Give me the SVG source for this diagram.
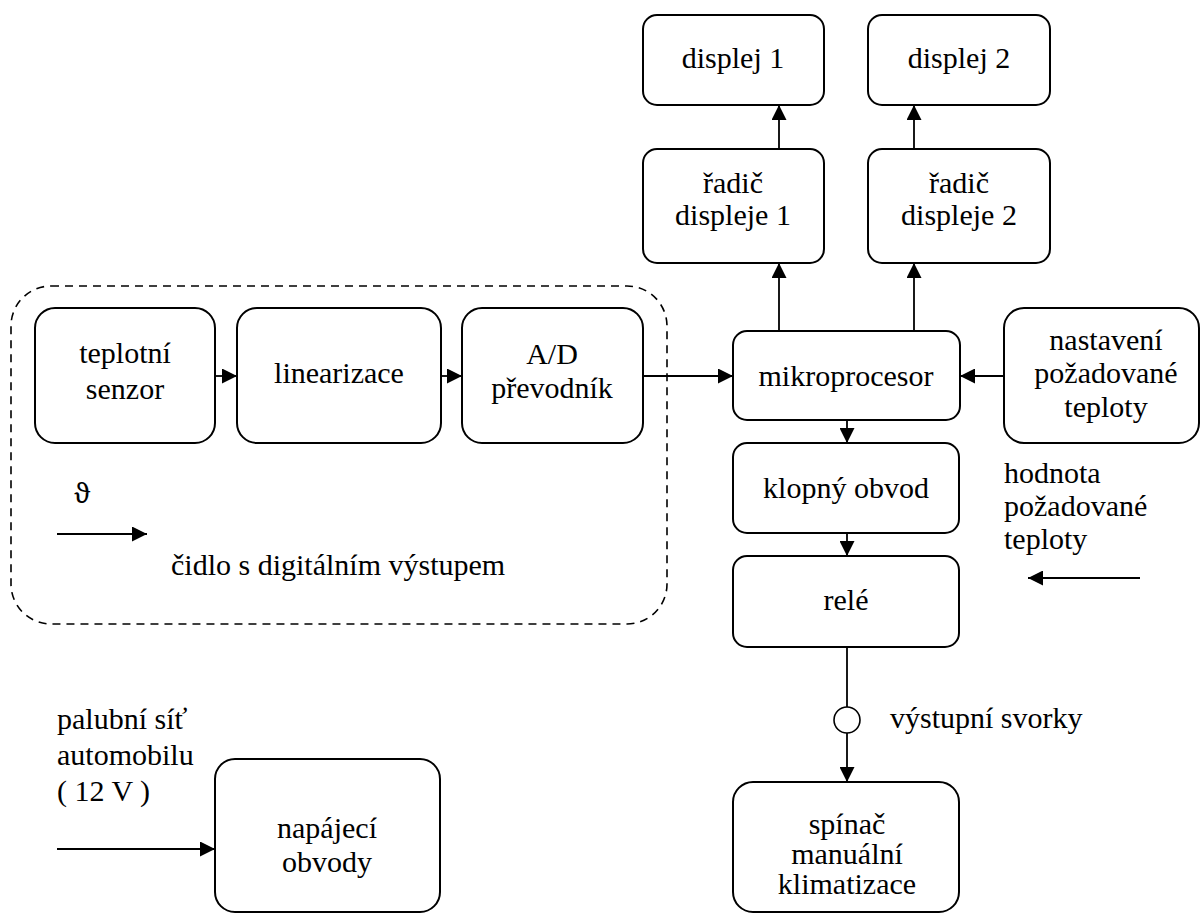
<svg xmlns="http://www.w3.org/2000/svg" width="1201" height="914" viewBox="0 0 1201 914">
<defs>
<marker id="ah" viewBox="0 0 10 10" refX="10" refY="5" markerUnits="userSpaceOnUse" markerWidth="15" markerHeight="15" orient="auto">
<path d="M0,0 L10,5 L0,10 z" fill="#000"/>
</marker>
</defs>
<rect id="sensor-group" x="11" y="286" width="656" height="338" rx="40" fill="none" stroke="#000" stroke-width="1.6" stroke-dasharray="8 6"/>
<g id="connectors" stroke="#000" stroke-width="1.8" fill="none" marker-end="url(#ah)">
<line x1="215" y1="376" x2="237" y2="376"/>
<line x1="441" y1="376" x2="462" y2="376"/>
<line x1="643" y1="376" x2="733" y2="376"/>
<line x1="1004" y1="376" x2="960" y2="376"/>
<line x1="847" y1="420" x2="847" y2="443"/>
<line x1="847" y1="533" x2="847" y2="556"/>
<line x1="847" y1="733" x2="847" y2="782"/>
<line x1="779" y1="149" x2="779" y2="105"/>
<line x1="914" y1="149" x2="914" y2="105"/>
<line x1="779" y1="331" x2="779" y2="263"/>
<line x1="914" y1="331" x2="914" y2="263"/>
<line x1="57" y1="849" x2="215" y2="849"/>
<line x1="57" y1="534" x2="147" y2="534"/>
<line x1="1140" y1="578" x2="1028" y2="578"/>
<line x1="847" y1="647" x2="847" y2="707" marker-end="none"/>
</g>
<g fill="#fff" stroke="#000" stroke-width="2">
<rect id="r-teplotni" x="35" y="308" width="180" height="135" rx="20"/>
<rect id="r-linearizace" x="237" y="308" width="204" height="135" rx="20"/>
<rect id="r-ad" x="462" y="308" width="181" height="135" rx="20"/>
<rect id="r-mikro" x="733" y="331" width="227" height="89" rx="14"/>
<rect id="r-nastaveni" x="1004" y="308" width="195" height="135" rx="20"/>
<rect id="r-klopny" x="733" y="443" width="226" height="90" rx="14"/>
<rect id="r-rele" x="733" y="556" width="226" height="91" rx="14"/>
<rect id="r-spinac" x="733" y="782" width="226" height="130" rx="20"/>
<rect id="r-displej1" x="643" y="15" width="181" height="90" rx="14"/>
<rect id="r-displej2" x="868" y="15" width="182" height="90" rx="14"/>
<rect id="r-radic1" x="643" y="149" width="181" height="114" rx="14"/>
<rect id="r-radic2" x="868" y="149" width="182" height="114" rx="14"/>
<rect id="r-napajeci" x="215" y="759" width="225" height="153" rx="20"/>
<circle id="svorky" cx="847" cy="720" r="13" stroke-width="1.6"/>
</g>
<g id="texts" font-size="30" font-family="Liberation Serif" fill="#000">
<g id="teplotni-senzor" text-anchor="middle"><text x="125" y="363">teplotní</text><text x="125" y="399">senzor</text></g>
<g id="linearizace" text-anchor="middle"><text x="339" y="383">linearizace</text></g>
<g id="ad-prevodnik" text-anchor="middle"><text x="552" y="364">A/D</text><text x="552" y="398">převodník</text></g>
<g id="mikroprocesor" text-anchor="middle"><text x="846" y="386">mikroprocesor</text></g>
<g id="nastaveni" text-anchor="middle"><text x="1106" y="350">nastavení</text><text x="1106" y="383">požadované</text><text x="1106" y="417">teploty</text></g>
<g id="klopny-obvod" text-anchor="middle"><text x="846" y="498">klopný obvod</text></g>
<g id="rele" text-anchor="middle"><text x="846" y="610">relé</text></g>
<g id="spinac" text-anchor="middle"><text x="847" y="834">spínač</text><text x="847" y="864">manuální</text><text x="847" y="894">klimatizace</text></g>
<g id="displej1" text-anchor="middle"><text x="733" y="68">displej 1</text></g>
<g id="displej2" text-anchor="middle"><text x="959" y="68">displej 2</text></g>
<g id="radic1" text-anchor="middle"><text x="733" y="193">řadič</text><text x="733" y="225">displeje 1</text></g>
<g id="radic2" text-anchor="middle"><text x="959" y="193">řadič</text><text x="959" y="225">displeje 2</text></g>
<g id="napajeci" text-anchor="middle"><text x="327" y="838">napájecí</text><text x="327" y="872">obvody</text></g>
<text x="890" y="728">výstupní svorky</text>
<text x="74" y="503" font-size="27" font-family="Noto Serif">ϑ</text>
<text x="171" y="575">čidlo s digitálním výstupem</text>
<text x="57" y="729">palubní síť</text>
<text x="57" y="765">automobilu</text>
<text x="57" y="801">( 12 V )</text>
<text x="1004" y="483">hodnota</text>
<text x="1004" y="516">požadované</text>
<text x="1004" y="549">teploty</text>
</g>
</svg>
